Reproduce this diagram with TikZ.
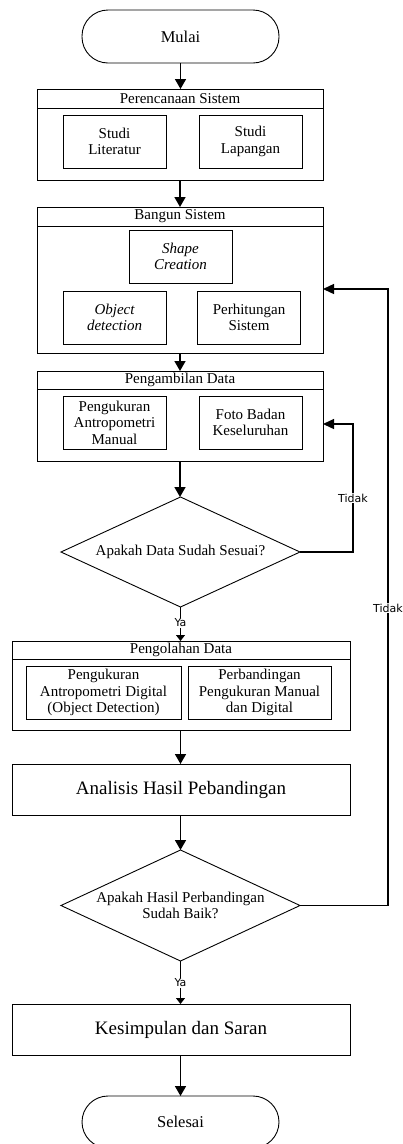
\documentclass[tikz,border=0pt]{standalone}
\usepackage{fontspec}
\setmainfont{Liberation Serif}
\newfontfamily\lblfont{DejaVu Sans}
\usetikzlibrary{shapes.geometric,arrows.meta}
\begin{document}
\begin{tikzpicture}[x=1pt,y=-1pt,
  every node/.style={inner sep=0pt,outer sep=0pt},
  term/.style={draw,line width=0.9pt,rounded corners=26pt,minimum width=197pt,minimum height=53pt,font=\fontsize{16.5}{18}\selectfont},
  cont/.style={draw,line width=0.9pt},
  hdr/.style={draw,line width=0.9pt,font=\fontsize{15}{16.5}\selectfont},
  inbox/.style={draw,line width=0.9pt,align=center,minimum width=103pt,minimum height=53pt,font=\fontsize{15}{16.5}\selectfont},
  bigbox/.style={draw,line width=0.9pt,minimum width=338pt,minimum height=51pt,font=\fontsize{19}{21}\selectfont},
  dec/.style={draw,line width=0.9pt,diamond,align=center,minimum width=239pt,minimum height=110pt,aspect=2.17,font=\fontsize{15}{16.7}\selectfont},
  lbl/.style={fill=white,inner sep=1pt,font=\lblfont\fontsize{11}{12}\selectfont},
  flow/.style={line width=1.6pt,-{Triangle[length=10pt,width=11pt]}},
  back/.style={line width=1.3pt,-{Triangle[length=11pt,width=10pt]}},
  yes/.style={line width=1.1pt,-{Triangle[length=6pt,width=9pt]}}
]
\useasboundingbox (0,0) rectangle (402,1144);

% Start
\node[term] (start) at (180.5,36.5) {Mulai};

% Perencanaan Sistem
\node[cont,minimum width=286pt,minimum height=91pt] (plan) at (180,134.5) {};
\node[hdr,minimum width=286pt,minimum height=19pt] (planh) at (180,98.5) {Perencanaan Sistem};
\node[inbox] (lit) at (114.5,141.5) {Studi\\Literatur};
\node[inbox] (lap) at (250.5,141.5) {Studi\\Lapangan};

% Bangun Sistem
\node[cont,minimum width=286pt,minimum height=146pt] (build) at (180,280) {};
\node[hdr,minimum width=286pt,minimum height=19pt] (buildh) at (180,216.5) {Bangun Sistem};
\node[inbox] (shape) at (180.5,256.5) {\itshape Shape\\\itshape Creation};
\node[inbox] (obj) at (114.5,317.5) {\itshape Object\\\itshape detection};
\node[inbox] (hit) at (249,317.5) {Perhitungan\\Sistem};

% Pengambilan Data
\node[cont,minimum width=286pt,minimum height=90pt] (take) at (180,416) {};
\node[hdr,minimum width=286pt,minimum height=18pt] (takeh) at (180,380) {Pengambilan Data};
\node[inbox] (man) at (114.5,422.5) {Pengukuran\\Antropometri\\Manual};
\node[inbox] (foto) at (250.5,422.5) {Foto Badan\\Keseluruhan};

% Decision 1
\node[dec] (d1) at (180.5,552) {Apakah Data Sudah Sesuai?};

% Pengolahan Data
\node[cont,minimum width=338pt,minimum height=89pt] (proc) at (181,685.5) {};
\node[hdr,minimum width=338pt,minimum height=18pt] (proch) at (181,650) {Pengolahan Data};
\node[inbox,minimum width=155pt] (dig) at (103.5,692.5) {Pengukuran\\Antropometri Digital\\(Object Detection)};
\node[inbox,minimum width=143pt] (cmp) at (259.5,692.5) {Perbandingan\\Pengukuran Manual\\dan Digital};

% Analisis
\node[bigbox] (ana) at (181,789.5) {Analisis Hasil Pebandingan};

% Decision 2
\node[dec,minimum height=111pt] (d2) at (180.5,905.5) {Apakah Hasil Perbandingan\\Sudah Baik?};

% Kesimpulan
\node[bigbox] (kes) at (181,1029.5) {Kesimpulan dan Saran};

% End
\node[term,minimum height=52pt] (stop) at (180.5,1122) {Selesai};

% Main flow
\draw[flow] (start.south) -- (start.south |- planh.north);
\draw[flow] (plan.south) -- (plan.south |- buildh.north);
\draw[flow] (build.south) -- (build.south |- takeh.north);
\draw[flow] (take.south) -- (take.south |- d1.north);
\draw[yes] (d1.south) -- (d1.south |- proch.north);
\draw[flow] (d1.south |- proc.south) -- (d1.south |- ana.north);
\draw[flow] (d1.south |- ana.south) -- (d2.north);
\draw[yes] (d2.south) -- (d2.south |- kes.north);
\draw[flow] (d2.south |- kes.south) -- (stop.north);

% Feedback loops
\coordinate (c1) at (353,424);
\draw[back] (d1.east) -| (c1) -- (take.east |- c1);
\coordinate (c2) at (388,289);
\draw[back] (d2.east) -| (c2) -- (build.east |- c2);

% Labels
\node[lbl] (t1) at (353,498) {Tidak};
\node[lbl] (t2) at (388,608) {Tidak};
\node[lbl] (y1) at (180.5,623) {Ya};
\node[lbl] (y2) at (180.5,983) {Ya};
\end{tikzpicture}
\end{document}
